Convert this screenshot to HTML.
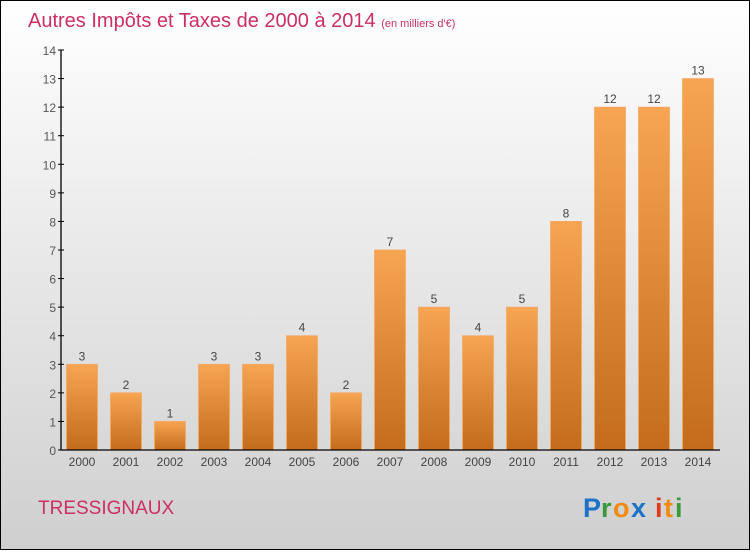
<!DOCTYPE html>
<html><head><meta charset="utf-8"><style>
html,body{margin:0;padding:0}
body{width:750px;height:550px;overflow:hidden;font-family:"Liberation Sans",sans-serif}
</style></head><body>
<svg width="750" height="550" xmlns="http://www.w3.org/2000/svg">
<defs>
<linearGradient id="bg" x1="0" y1="0" x2="0" y2="1"><stop offset="0" stop-color="#ffffff"/><stop offset="1" stop-color="#cfcfcf"/></linearGradient>
<linearGradient id="bar" x1="0" y1="0" x2="0" y2="1"><stop offset="0" stop-color="#f7a552"/><stop offset="1" stop-color="#c46c1c"/></linearGradient>
</defs>
<rect x="0.5" y="0.5" width="749" height="549" fill="url(#bg)" stroke="#000"/>
<text x="28" y="27" font-size="20" fill="#cc2f61">Autres Impôts et Taxes de 2000 à 2014 <tspan font-size="11">(en milliers d'€)</tspan></text>
<g id="yaxis"></g>
<g id="bars"></g>
<g id="xaxis"></g>
<text x="38" y="514" font-size="19" fill="#cc2f61">TRESSIGNAUX</text>
<g font-size="27" font-weight="bold">
<text x="583" y="517" fill="#1a73c8">P</text><text x="601" y="517" fill="#3a9a3a">r</text><text x="613" y="517" fill="#f08a10">o</text><text x="631" y="517" fill="#1a73c8">x</text><text x="655" y="517" fill="#e03a1a">i</text><text x="664" y="517" fill="#f08a10">t</text><text x="675" y="517" fill="#3a9a3a">i</text>
</g>
</svg>
<script>
const years=["2000","2001","2002","2003","2004","2005","2006","2007","2008","2009","2010","2011","2012","2013","2014"];
const values=[3,2,1,3,3,4,2,7,5,4,5,8,12,12,13];
const yTicks=[0,1,2,3,4,5,6,7,8,9,10,11,12,13,14];
const NS="http://www.w3.org/2000/svg";
const y0=450,yMax=50,vMax=14;
function yS(v){return y0-(y0-yMax)*v/vMax;}
function xC(i){return 82+44*i;}
function mk(tag,attrs,parent,txt){const e=document.createElementNS(NS,tag);for(const k in attrs)e.setAttribute(k,attrs[k]);if(txt!==undefined)e.textContent=txt;parent.appendChild(e);return e;}
const ya=document.getElementById('yaxis'),xa=document.getElementById('xaxis'),bg=document.getElementById('bars');
mk('line',{x1:61,y1:y0,x2:61,y2:yMax,stroke:'#000','stroke-width':1.3},ya);
yTicks.forEach(t=>{
 mk('line',{x1:58,x2:64,y1:yS(t),y2:yS(t),stroke:'#000'},ya);
 const l=mk('text',{x:56,y:yS(t)+5,'text-anchor':'end','font-size':12,fill:'#555'},ya,t);
 
 
});
values.forEach((v,i)=>{
 const r=mk('rect',{x:xC(i)-15.5,y:yS(v),width:31,height:y0-yS(v),fill:'url(#bar)',stroke:'#f5a866','stroke-width':0.8},bg);
 
 
 const t=mk('text',{x:xC(i),y:yS(v)-4,'text-anchor':'middle','font-size':12,fill:'#444'},bg,v);
 
 
 const xl=mk('text',{x:xC(i),y:466,'text-anchor':'middle','font-size':12,fill:'#444'},xa,years[i]);
 
 
});
mk('line',{x1:61,y1:y0,x2:720,y2:y0,stroke:'#000','stroke-width':1.3},xa);
</script>
</body></html>
